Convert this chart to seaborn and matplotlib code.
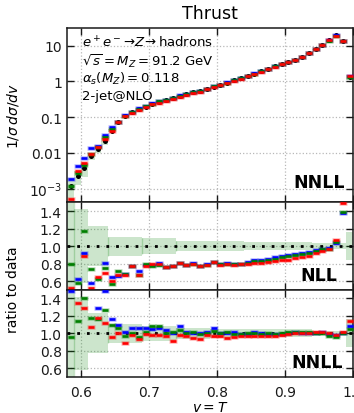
import numpy as np
import pandas as pd
import matplotlib
matplotlib.use("Agg")
import matplotlib.pyplot as plt
import seaborn as sns

# ---------------------------------------------------------------- binning
bin_edges = np.round(np.linspace(0.58, 1.00, 43), 3)
bin_centres = 0.5 * (bin_edges[:-1] + bin_edges[1:])

# ---------------------------------------------------------------- data
data_xsec = [0.00115, 0.0022, 0.0037, 0.0081, 0.013, 0.021, 0.042, 0.072,
             0.105, 0.135, 0.165, 0.195, 0.23, 0.26, 0.30, 0.34, 0.38, 0.43,
             0.49, 0.55, 0.62, 0.70, 0.80, 0.92, 1.06, 1.22, 1.42, 1.64,
             1.92, 2.25, 2.62, 3.05, 3.45, 4.0, 4.8, 6.0, 7.8, 10.2, 14.2,
             19.2, 13.4, 1.30]
data_relerr = [0.70, 0.42, 0.42, 0.23, 0.23, 0.23, 0.11, 0.11, 0.11, 0.11,
               0.11, 0.09, 0.09, 0.09, 0.09, 0.09, 0.06, 0.06, 0.06, 0.06,
               0.06, 0.055, 0.055, 0.055, 0.055, 0.055, 0.05, 0.05, 0.05,
               0.05, 0.05, 0.045, 0.045, 0.045, 0.045, 0.045, 0.03, 0.03,
               0.03, 0.03, 0.03, 0.16]
band_marks = [0.59, 0.64, 0.69, 0.74]
band_mark_halfwidth = [0.7, 0.11, 0.09, 0.06]

# ------------------------------------------------ NNLL predictions (top panel)
nnll_blue = [0.0018, 0.0043, 0.0071, 0.0136, 0.0155, 0.032, 0.053, 0.075,
             0.114, 0.143, 0.175, 0.206, 0.243, 0.275, 0.305, 0.342, 0.41,
             0.44, 0.50, 0.552, 0.63, 0.74, 0.81, 0.93, 1.07, 1.225, 1.42,
             1.66, 1.93, 2.25, 2.62, 3.05, 3.5, 4.03, 4.82, 6.03, 7.8, 10.2,
             14.2, 19.5, 13.4, 1.42]
nnll_green = [0.0012, 0.0028, 0.0047, 0.0094, 0.0145, 0.027, 0.047, 0.073,
              0.108, 0.140, 0.168, 0.198, 0.238, 0.280, 0.303, 0.342, 0.395,
              0.435, 0.49, 0.55, 0.625, 0.72, 0.80, 0.925, 1.06, 1.22, 1.42,
              1.64, 1.92, 2.25, 2.62, 3.05, 3.47, 4.05, 4.83, 6.04, 7.8,
              10.2, 13.8, 18.4, 13.4, 1.36]
nnll_red = [0.00051, 0.0031, 0.0052, 0.0094, 0.0145, 0.0244, 0.042, 0.071,
            0.104, 0.133, 0.158, 0.192, 0.226, 0.255, 0.291, 0.313, 0.372,
            0.42, 0.466, 0.51, 0.61, 0.69, 0.776, 0.874, 1.02, 1.18, 1.39,
            1.60, 1.88, 2.20, 2.58, 3.03, 3.44, 4.0, 4.8, 6.0, 7.95, 10.4,
            14.2, 18.8, 13.5, 1.45]

# ------------------------------------------------ ratios to data, NLL
nll_ratio_blue = [0.40, 0.62, 0.918, 0.58, 0.45, 0.81, 0.644, 0.654, 0.68,
                  0.775, 0.72, 0.785, 0.785, 0.81, 0.765, 0.772, 0.81, 0.78,
                  0.81, 0.77, 0.79, 0.82, 0.79, 0.805, 0.795, 0.80, 0.822,
                  0.84, 0.838, 0.85, 0.87, 0.886, 0.896, 0.91, 0.92, 0.93,
                  0.95, 0.97, 0.975, 1.04, 1.385, 1.70]
nll_ratio_green = [0.79, 0.574, 1.176, 0.736, 0.62, 0.75, 0.566, 0.714, 0.675,
                   0.77, 0.672, 0.797, 0.772, 0.778, 0.758, 0.768, 0.81, 0.782,
                   0.80, 0.77, 0.785, 0.82, 0.79, 0.80, 0.79, 0.795, 0.81,
                   0.83, 0.826, 0.84, 0.85, 0.87, 0.885, 0.90, 0.915, 0.92,
                   0.945, 0.965, 0.97, 1.05, 1.395, 1.70]
nll_ratio_red = [0.525, 0.47, 0.888, 0.517, 0.642, 0.69, 0.60, 0.672, 0.665,
                 0.767, 0.672, 0.77, 0.795, 0.79, 0.757, 0.77, 0.81, 0.778,
                 0.795, 0.77, 0.785, 0.815, 0.785, 0.795, 0.785, 0.79, 0.80,
                 0.805, 0.805, 0.815, 0.83, 0.84, 0.845, 0.86, 0.88, 0.89,
                 0.925, 0.94, 0.965, 1.066, 1.49, 1.70]

# ------------------------------------------------ ratios to data, NNLL
nnll_ratio_blue = [1.48, 1.60, 1.60, 1.60, 1.29, 1.48, 1.16, 1.10, 1.015,
                   1.06, 1.06, 1.06, 1.055, 1.06, 1.04, 1.0, 1.08, 1.02, 1.0,
                   1.0, 1.01, 1.06, 1.0, 1.0, 1.01, 0.995, 0.995, 1.01, 1.0,
                   0.995, 0.99, 0.99, 1.005, 1.01, 1.005, 1.005, 1.0, 1.01,
                   0.995, 0.985, 1.005, 1.08]
nnll_ratio_green = [0.96, 1.136, 1.40, 1.18, 1.17, 1.27, 1.10, 1.06, 0.97,
                    1.0, 0.96, 1.02, 1.08, 1.08, 1.0, 1.01, 1.04, 1.0, 1.01,
                    0.99, 1.0, 1.03, 1.0, 1.01, 0.99, 0.99, 1.0, 1.0, 0.995,
                    1.0, 0.995, 1.0, 1.01, 1.015, 1.01, 1.01, 1.0, 1.0, 0.975,
                    0.955, 1.0, 1.05]
nnll_ratio_red = [1.60, 1.35, 1.29, 1.07, 1.18, 1.12, 0.955, 1.0, 0.886, 0.98,
                  0.94, 0.99, 0.985, 0.985, 0.97, 0.913, 0.977, 0.975, 0.95,
                  0.93, 0.98, 0.975, 0.965, 0.945, 0.96, 0.97, 0.975, 0.975,
                  0.97, 0.97, 0.975, 0.985, 0.995, 1.0, 1.0, 1.005, 1.02,
                  1.02, 1.0, 0.98, 1.01, 1.14]

log_ticks = [1e-3, 1e-2, 1e-1, 1, 10]
log_ticklabels = [r"$10^{-3}$", "0.01", "0.1", "1", "10"]
ratio_ticks = [0.6, 0.8, 1.0, 1.2, 1.4]
ratio_ticklabels = ["0.6", "0.8", "1.0", "1.2", "1.4"]
x_ticks = [0.6, 0.7, 0.8, 0.9, 1.0]
x_ticklabels = ["0.6", "0.7", "0.8", "0.9", "1.0"]

info_lines = [r"$e^+e^-\!\to\! Z\!\to$hadrons",
              r"$\sqrt{s}=M_Z=91.2$ GeV",
              r"$\alpha_s(M_Z)=0.118$",
              "2-jet@NLO"]

# ---------------------------------------------------------------- style
sns.set_theme(style="ticks")
plt.rcParams.update({
    "font.family": ["DejaVu Sans"],
    "mathtext.fontset": "dejavusans",
    "axes.edgecolor": "#1a1a1a",
    "axes.linewidth": 1.1,
    "xtick.color": "#1a1a1a",
    "ytick.color": "#1a1a1a",
    "text.color": "black",
    "axes.labelcolor": "black",
})

BLUE, GREEN, RED = "#0000ff", "#007f00", "#ff0000"
BAND = (0.0, 0.5, 0.0, 0.2)
series_colours = [BLUE, GREEN, RED]

fig = plt.figure(figsize=(3.54, 4.14), dpi=100)
gs = fig.add_gridspec(3, 1, height_ratios=[2, 1, 1], hspace=0,
                      left=0.1905, right=0.997, top=0.930, bottom=0.087)
ax_main = fig.add_subplot(gs[0])
ax_nll = fig.add_subplot(gs[1], sharex=ax_main)
ax_nnll = fig.add_subplot(gs[2], sharex=ax_main)


def bar_marks(ax, x, y, colour):
    """Short horizontal bin markers with a soft outline."""
    frame = pd.DataFrame({"x": x, "y": y})
    sns.scatterplot(data=frame, x="x", y="y", marker="_", s=30, linewidth=3.3,
                    color=colour, alpha=0.28, ax=ax, zorder=4, legend=False)
    sns.scatterplot(data=frame, x="x", y="y", marker="_", s=19, linewidth=1.9,
                    color=colour, ax=ax, zorder=5, legend=False)


def style_axis(ax):
    ax.grid(True, which="major", linestyle=":", color="#b8b8b8", linewidth=0.9)
    ax.tick_params(which="both", direction="in", top=True, right=True,
                   length=5, width=1.0, labelsize=10, pad=4)
    ax.tick_params(axis="x", pad=6)
    ax.minorticks_off()
    ax.set_xlabel("")
    ax.set_ylabel("")


# --- top panel: distribution
data = np.array(data_xsec)
err = np.array(data_relerr)
ax_main.bar(bin_centres, 2 * err * data, bottom=data * (1 - err), width=0.01,
            color=BAND, linewidth=0, zorder=2)
sns.scatterplot(x=bin_centres, y=data, color="black", s=13, linewidth=0,
                ax=ax_main, zorder=3.5, legend=False)
for vals, col in zip([nnll_blue, nnll_green, nnll_red], series_colours):
    bar_marks(ax_main, bin_centres, vals, col)
ax_main.set_yscale("log")
ax_main.set_ylim(4.1e-4, 31)
ax_main.set_xlim(0.58, 1.0)
ax_main.set_yticks(log_ticks)
ax_main.set_yticklabels(log_ticklabels)
style_axis(ax_main)
ax_main.tick_params(axis="x", labelbottom=False)
ax_main.set_title("Thrust", fontsize=12.5, pad=7)
for i, line in enumerate(info_lines):
    ax_main.text(0.05, 0.92 - i * 0.103, line, transform=ax_main.transAxes,
                 fontsize=9.5, ha="left", va="center", zorder=7)
ax_main.text(0.972, 0.115, "NNLL", transform=ax_main.transAxes,
             fontsize=12.5, fontweight="bold", ha="right", va="center")

# --- ratio panels
ratio_sets = [
    (ax_nll, [nll_ratio_blue, nll_ratio_green, nll_ratio_red], "NLL", 0.944),
    (ax_nnll, [nnll_ratio_blue, nnll_ratio_green, nnll_ratio_red], "NNLL", 0.965),
]
for ax, ratios, tag, xpos in ratio_sets:
    ax.bar(bin_centres, 2 * err, bottom=1 - err, width=0.01, color=BAND,
           linewidth=0, zorder=2)
    ax.vlines(band_marks, [1 - h for h in band_mark_halfwidth],
              [1 + h for h in band_mark_halfwidth], color=GREEN, alpha=0.22,
              linewidth=1.0, zorder=2)
    ax.axhline(1.0, color="black", linestyle=(0, (1, 2.5)), linewidth=2,
               zorder=3)
    for vals, col in zip(ratios, series_colours):
        bar_marks(ax, bin_centres, vals, col)
    ax.set_ylim(0.5, 1.5)
    ax.set_yticks(ratio_ticks)
    ax.set_yticklabels(ratio_ticklabels)
    style_axis(ax)
    ax.text(xpos, 0.17, tag, transform=ax.transAxes, fontsize=12.5,
            fontweight="bold", ha="right", va="center", zorder=7)

ax_nll.tick_params(axis="x", labelbottom=False)
ax_nnll.set_xticks(x_ticks)
ax_nnll.set_xticklabels(x_ticklabels)
ax_nnll.set_xlim(0.58, 1.0)

fig.text(13 / 354, 1 - 116 / 414, r"$1/\sigma\, d\sigma/dv$", rotation=90,
         fontsize=10, ha="center", va="center")
fig.text(13 / 354, 1 - 290 / 414, "ratio to data", rotation=90,
         fontsize=10, ha="center", va="center")
fig.text(210 / 354, 1 - 408 / 414, r"$v = T$", fontsize=10,
         ha="center", va="center")

fig.savefig("out.png", dpi=100)
